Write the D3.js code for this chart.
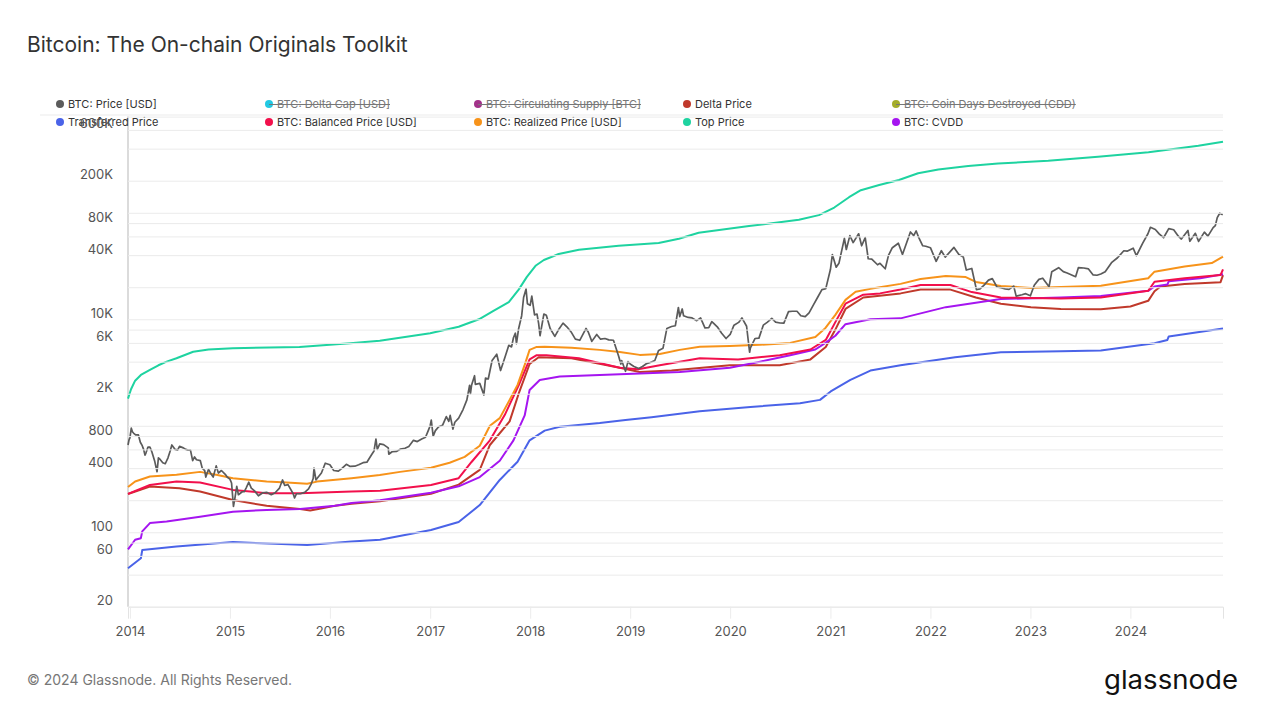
<!DOCTYPE html>
<html><head><meta charset="utf-8">
<script src="https://cdn.jsdelivr.net/npm/d3@7"></script>
<style>
body{margin:0;background:#fff;}
svg{display:block;font-family:Inter,"Noto Sans",sans-serif;}
</style>
</head><body>
<svg id="chart" width="1265" height="712"></svg>
<script>
// ---------- DATA ----------
const chartTitle = "Bitcoin: The On-chain Originals Toolkit";
const footerText = "© 2024 Glassnode. All Rights Reserved.";
const logoText = "glassnode";

const legendNames = [
  "BTC: Price [USD]", "BTC: Delta Cap [USD]", "BTC: Circulating Supply [BTC]", "Delta Price", "BTC: Coin Days Destroyed (CDD)",
  "Transferred Price", "BTC: Balanced Price [USD]", "BTC: Realized Price [USD]", "Top Price", "BTC: CVDD"
];
const legendColors = ["#5b5b5b","#22c9e3","#a3328a","#c0392b","#a4ad2a","#4a63e8","#f2104c","#f7931a","#1ed3a0","#a515f0"];
const legendHidden = [false,true,true,false,true,false,false,false,false,false];

const yGridTicks = [20,40,60,80,100,200,400,600,800,1000,2000,4000,6000,8000,10000,20000,40000,60000,80000,100000,200000,400000,600000,800000];
const yLabelTicks = [20,60,100,400,800,2000,6000,10000,40000,80000,200000,600000];
const xTickYears = [2014,2015,2016,2017,2018,2019,2020,2021,2022,2023,2024];

const price = [
["2013-12-25",660],["2013-12-29",740],["2014-01-01",770],["2014-01-06",950],["2014-01-10",880],["2014-01-15",850],["2014-01-22",820],["2014-02-01",820],
["2014-02-08",700],["2014-02-15",650],["2014-02-20",600],["2014-02-25",530],["2014-03-01",560],["2014-03-08",630],["2014-03-15",630],["2014-03-22",570],
["2014-04-01",470],["2014-04-10",370],["2014-04-15",500],["2014-04-22",480],["2014-05-01",450],["2014-05-10",440],["2014-05-20",500],["2014-05-28",580],
["2014-06-03",660],["2014-06-15",600],["2014-06-24",590],["2014-07-01",640],["2014-07-15",620],["2014-07-24",600],["2014-08-01",590],["2014-08-10",590],
["2014-08-18",470],["2014-08-25",510],["2014-09-01",480],["2014-09-15",470],["2014-09-22",400],["2014-10-01",380],["2014-10-05",330],["2014-10-15",390],
["2014-10-25",350],["2014-11-01",330],["2014-11-12",420],["2014-11-20",360],["2014-12-01",380],["2014-12-15",350],["2014-12-22",330],["2015-01-01",315],
["2015-01-07",290],["2015-01-14",175],["2015-01-20",215],["2015-01-26",270],["2015-02-01",225],["2015-02-15",240],["2015-02-22",240],["2015-03-01",260],
["2015-03-11",295],["2015-03-20",260],["2015-04-01",245],["2015-04-15",220],["2015-05-01",235],["2015-05-15",237],["2015-06-01",225],["2015-06-15",235],
["2015-07-01",260],["2015-07-12",310],["2015-07-20",275],["2015-08-01",280],["2015-08-20",230],["2015-08-25",210],["2015-09-01",230],["2015-09-15",230],
["2015-10-01",237],["2015-10-15",255],["2015-10-25",285],["2015-11-01",320],["2015-11-04",400],["2015-11-11",310],["2015-11-15",320],["2015-12-01",360],
["2015-12-15",445],["2016-01-01",430],["2016-01-15",380],["2016-02-01",375],["2016-02-15",400],["2016-03-01",435],["2016-03-15",415],["2016-04-01",417],
["2016-04-15",430],["2016-05-01",450],["2016-05-15",455],["2016-06-01",535],["2016-06-10",580],["2016-06-17",750],["2016-06-22",600],["2016-07-01",675],
["2016-07-15",665],["2016-08-01",620],["2016-08-03",540],["2016-08-15",570],["2016-09-01",575],["2016-09-15",605],["2016-10-01",615],["2016-10-15",640],
["2016-11-01",730],["2016-11-15",710],["2016-12-01",750],["2016-12-15",780],["2016-12-25",900],["2017-01-01",1000],["2017-01-05",1130],["2017-01-12",800],
["2017-01-20",900],["2017-02-01",980],["2017-02-15",1010],["2017-03-01",1220],["2017-03-10",1100],["2017-03-15",1250],["2017-03-25",930],["2017-04-01",1080],
["2017-04-15",1180],["2017-05-01",1420],["2017-05-15",1750],["2017-05-25",2400],["2017-05-28",2000],["2017-06-01",2400],["2017-06-12",2950],["2017-06-15",2450],
["2017-07-01",2500],["2017-07-16",1950],["2017-07-22",2800],["2017-08-01",2750],["2017-08-15",4100],["2017-09-01",4700],["2017-09-15",3300],["2017-10-01",4400],
["2017-10-15",5700],["2017-10-25",5500],["2017-11-01",6700],["2017-11-08",7400],["2017-11-12",5900],["2017-11-20",8200],["2017-12-01",10800],["2017-12-08",16000],
["2017-12-17",19200],["2017-12-22",14000],["2018-01-01",13500],["2018-01-07",16500],["2018-01-17",11000],["2018-01-26",11200],["2018-02-01",9100],
["2018-02-06",7000],["2018-02-20",11200],["2018-03-01",10900],["2018-03-15",8200],["2018-04-01",6900],["2018-04-15",8000],["2018-05-01",9200],
["2018-05-15",8500],["2018-06-01",7500],["2018-06-15",6500],["2018-07-01",6350],["2018-07-24",8200],["2018-08-01",7600],["2018-08-14",6200],
["2018-09-01",7200],["2018-09-15",6500],["2018-10-01",6600],["2018-10-15",6400],["2018-11-01",6350],["2018-11-20",4500],["2018-11-28",3800],
["2018-12-01",4100],["2018-12-15",3250],["2018-12-24",4000],["2019-01-01",3800],["2019-01-15",3600],["2019-02-01",3450],["2019-02-15",3600],
["2019-03-01",3820],["2019-03-15",3930],["2019-04-01",4100],["2019-04-15",5100],["2019-05-01",5350],["2019-05-15",8200],["2019-06-01",8550],
["2019-06-15",8700],["2019-06-26",12900],["2019-07-01",10600],["2019-07-10",12500],["2019-07-15",10800],["2019-08-01",10400],["2019-08-15",10300],
["2019-09-01",9700],["2019-09-15",10300],["2019-10-01",8300],["2019-10-15",8350],["2019-10-26",9500],["2019-11-01",9200],["2019-11-15",8500],
["2019-12-01",7400],["2019-12-17",6600],["2020-01-01",7200],["2020-01-15",8800],["2020-02-01",9350],["2020-02-13",10300],["2020-03-01",8600],
["2020-03-12",4900],["2020-03-15",5400],["2020-04-01",6600],["2020-04-15",6650],["2020-05-01",8800],["2020-05-15",9350],["2020-06-01",10200],
["2020-06-15",9400],["2020-07-01",9230],["2020-07-15",9200],["2020-08-01",11800],["2020-08-15",11900],["2020-09-01",11900],["2020-09-15",10800],
["2020-10-01",10600],["2020-10-15",11500],["2020-11-01",13800],["2020-11-15",16000],["2020-12-01",19000],["2020-12-15",19400],["2021-01-01",29300],
["2021-01-08",40500],["2021-01-22",30800],["2021-02-01",33500],["2021-02-21",57500],["2021-02-28",45200],["2021-03-13",61000],["2021-03-25",52500],
["2021-04-14",63500],["2021-04-25",49000],["2021-05-08",58500],["2021-05-19",37000],["2021-06-01",36700],["2021-06-22",32500],["2021-07-01",33500],
["2021-07-20",29800],["2021-08-01",39800],["2021-08-15",47000],["2021-09-06",51800],["2021-09-21",40600],["2021-10-01",48000],["2021-10-20",66000],
["2021-11-01",61000],["2021-11-10",67500],["2021-11-20",58000],["2021-12-04",49000],["2021-12-15",48500],["2022-01-01",47000],["2022-01-22",35000],
["2022-02-10",44000],["2022-02-24",38300],["2022-03-28",47300],["2022-04-15",40500],["2022-05-01",38500],["2022-05-12",29000],["2022-06-01",30000],
["2022-06-18",19000],["2022-07-01",19300],["2022-07-15",20800],["2022-08-01",23300],["2022-08-15",24100],["2022-09-01",20100],["2022-09-15",19800],
["2022-10-01",19300],["2022-10-15",19100],["2022-11-01",20500],["2022-11-10",16500],["2022-12-01",17000],["2022-12-15",17400],["2023-01-01",16600],
["2023-01-15",20900],["2023-02-01",23700],["2023-02-15",24300],["2023-03-10",20200],["2023-03-20",28000],["2023-04-14",30500],["2023-05-01",28000],
["2023-05-15",27200],["2023-06-15",25100],["2023-06-25",30500],["2023-07-15",30300],["2023-08-01",29700],["2023-08-18",26100],["2023-09-01",25900],
["2023-09-15",26600],["2023-10-01",27900],["2023-10-24",34000],["2023-11-15",37800],["2023-12-08",44000],["2023-12-20",43600],["2024-01-11",46500],
["2024-01-23",39500],["2024-02-15",51800],["2024-03-05",63500],["2024-03-14",73000],["2024-04-01",69700],["2024-04-15",63400],["2024-05-01",58300],
["2024-05-20",71000],["2024-06-07",69300],["2024-06-24",60300],["2024-07-05",56700],["2024-07-29",68200],["2024-08-05",54000],["2024-08-25",64200],
["2024-09-06",53900],["2024-09-27",65800],["2024-10-10",60300],["2024-10-29",72500],["2024-11-06",75800],["2024-11-13",90000],["2024-11-22",99000],
["2024-12-03",96000]
];

const topPrice = [
["2013-12-25",1800],["2014-01-05",2200],["2014-01-20",2650],["2014-02-10",3000],["2014-03-15",3350],["2014-04-15",3700],["2014-05-15",4000],
["2014-06-20",4300],["2014-08-20",4950],["2014-10-15",5200],["2015-01-12",5350],["2015-09-12",5500],["2016-03-15",5950],["2016-07-01",6300],
["2017-01-01",7400],["2017-04-15",8500],["2017-06-28",10000],["2017-08-20",12000],["2017-10-15",14500],["2017-11-20",19000],["2017-12-20",25000],
["2018-01-22",32000],["2018-02-20",36000],["2018-04-15",41000],["2018-06-28",45000],["2018-11-20",49000],["2019-04-15",52000],["2019-06-28",57000],
["2019-09-08",65000],["2020-03-10",75000],["2020-09-08",86000],["2020-11-20",95000],["2021-01-15",112000],["2021-03-10",140000],["2021-04-22",163000],
["2021-06-28",182000],["2021-09-08",203000],["2021-11-17",235000],["2022-01-30",255000],["2022-05-19",275000],["2022-09-05",290000],["2023-03-07",308000],
["2023-09-05",335000],["2024-03-07",370000],["2024-09-05",425000],["2024-12-04",465000]
];

const realizedPrice = [
["2013-12-25",266],["2014-01-20",300],["2014-03-15",334],["2014-06-20",346],["2014-09-14",369],["2014-11-12",346],["2015-01-12",322],
["2015-05-15",299],["2015-07-28",293],["2015-10-10",285],["2015-11-15",299],["2016-03-20",322],["2016-07-01",345],["2016-09-13",369],
["2017-01-04",404],["2017-03-13",450],["2017-05-07",510],["2017-07-01",650],["2017-08-07",1000],["2017-09-12",1180],["2017-10-18",1750],
["2017-11-16",2420],["2017-12-12",3730],["2017-12-30",5160],["2018-01-25",5500],["2018-02-23",5510],["2018-06-01",5400],["2018-09-12",5160],
["2018-11-24",4940],["2019-02-05",4630],["2019-04-19",4730],["2019-07-01",5160],["2019-09-12",5510],["2019-12-31",5620],["2020-04-19",5750],
["2020-08-07",6000],["2020-11-07",6830],["2020-12-14",8300],["2021-01-19",11000],["2021-02-25",15200],["2021-04-03",18100],["2021-05-27",19300],
["2021-09-14",21500],["2021-11-26",23900],["2022-02-26",25500],["2022-05-10",24900],["2022-06-16",22400],["2022-09-15",20500],["2023-01-03",19700],
["2023-04-22",20100],["2023-09-15",20600],["2024-03-06",24300],["2024-03-29",28000],["2024-07-17",31300],["2024-10-24",33700],["2024-12-04",38800]
];

const balancedPrice = [
["2013-12-25",229],["2014-03-15",278],["2014-06-20",299],["2014-09-14",293],["2015-01-12",250],["2015-05-15",233],["2015-09-14",233],
["2016-03-20",241],["2016-07-02",245],["2017-01-04",278],["2017-04-15",322],["2017-06-01",457],["2017-08-07",730],["2017-09-30",1260],
["2017-11-20",2400],["2017-12-30",4200],["2018-01-25",4600],["2018-03-01",4600],["2018-06-28",4300],["2018-11-24",3500],["2019-01-30",3400],
["2019-04-19",3700],["2019-09-12",4300],["2020-01-30",4200],["2020-06-30",4600],["2020-10-20",5200],["2020-12-15",6400],["2021-01-19",9400],
["2021-02-25",14000],["2021-05-01",17000],["2021-07-01",17500],["2021-09-14",19000],["2021-11-26",21000],["2022-03-15",21000],["2022-06-01",18000],
["2022-09-15",16000],["2023-04-22",15700],["2023-09-15",16000],["2024-03-06",18500],["2024-03-29",22500],["2024-07-17",24300],["2024-11-25",26000],
["2024-12-04",29400]
];

const deltaPrice = [
["2013-12-25",229],["2014-03-15",269],["2014-07-01",259],["2014-09-14",241],["2015-01-12",201],["2015-05-15",177],["2015-09-14",165],
["2015-10-21",160],["2016-01-20",177],["2016-03-20",185],["2016-07-02",195],["2017-01-04",230],["2017-04-15",280],["2017-07-01",385],
["2017-08-07",660],["2017-10-18",1100],["2017-11-20",2000],["2017-12-30",3800],["2018-02-01",4400],["2018-06-01",4300],["2018-11-24",3500],
["2019-02-05",3200],["2019-06-01",3300],["2019-12-31",3700],["2020-06-30",3700],["2020-10-20",4200],["2020-12-15",5500],["2021-01-19",8000],
["2021-02-25",12500],["2021-05-01",16000],["2021-09-14",17500],["2021-11-26",19000],["2022-03-15",19000],["2022-06-16",16000],["2022-09-15",14000],
["2023-01-03",13000],["2023-04-22",12500],["2023-09-15",12400],["2024-01-01",13200],["2024-03-06",14900],["2024-03-29",18300],["2024-04-20",20300],
["2024-07-17",21400],["2024-11-25",22300],["2024-12-04",26000]
];

const cvdd = [
["2013-12-25",69],["2014-01-20",85],["2014-02-10",88],["2014-02-15",102],["2014-03-15",122],["2014-05-15",126],["2014-09-14",140],
["2015-01-12",156],["2015-05-15",162],["2015-09-14",165],["2016-01-20",177],["2016-03-20",188],["2016-07-02",200],["2017-01-04",235],
["2017-04-15",270],["2017-07-01",330],["2017-09-12",470],["2017-11-01",730],["2017-12-12",1250],["2017-12-30",2170],["2018-02-05",2690],
["2018-04-19",2900],["2018-09-12",3000],["2019-02-05",3100],["2019-07-01",3200],["2019-12-31",3500],["2020-04-19",4000],["2020-08-07",4600],
["2020-11-07",5200],["2020-12-14",6000],["2021-01-19",7000],["2021-02-25",9000],["2021-05-27",10000],["2021-09-14",10200],["2022-02-26",13000],
["2022-09-15",15500],["2023-04-22",16000],["2023-09-15",16500],["2024-03-06",18500],["2024-03-29",20300],["2024-05-15",21200],["2024-05-20",22700],
["2024-09-12",24300],["2024-12-04",26500]
];

const transferredPrice = [
["2013-12-25",46],["2014-02-10",57],["2014-02-15",68],["2014-06-20",73.5],["2015-01-12",81],["2015-06-15",78],["2015-10-10",76],
["2016-03-20",82],["2016-07-02",85],["2017-01-04",105],["2017-04-15",125],["2017-07-01",180],["2017-09-12",310],["2017-11-16",460],
["2017-12-30",730],["2018-02-23",900],["2018-04-19",980],["2018-09-12",1060],["2018-12-15",1130],["2019-03-20",1200],["2019-09-12",1370],
["2020-03-15",1500],["2020-09-12",1630],["2020-11-24",1750],["2021-01-02",2100],["2021-03-15",2700],["2021-05-27",3300],["2021-09-14",3700],
["2022-04-01",4400],["2022-09-15",4900],["2023-04-22",5000],["2023-09-15",5100],["2024-03-29",5950],["2024-05-15",6400],["2024-05-20",6900],
["2024-12-04",8200]
];

// ---------- CHART ----------
const svg = d3.select("#chart");
const L = 128, R = 1223, T = 116.6, B = 606.7;
const x = d3.scaleUtc().domain([new Date("2013-12-25T00:00:00Z"), new Date("2024-12-04T00:00:00Z")]).range([L, R]);
const y = d3.scaleLog().domain([20, 800000]).range([B, T]);
const parse = arr => arr.map(([d, v]) => ({date: new Date(d + "T00:00:00Z"), value: v}));
const fmt = v => v >= 1000 ? (v / 1000) + "K" : String(v);

// title
svg.append("text").attr("x", 27).attr("y", 52).attr("font-size", 21).attr("fill", "#333").text(chartTitle);

// gridlines + y labels
const yAxis = svg.append("g").attr("transform", `translate(${L},0)`)
  .call(d3.axisLeft(y).tickValues(yGridTicks).tickSize(-(R - L)).tickFormat(v => yLabelTicks.includes(v) ? fmt(v) : ""));
yAxis.select(".domain").remove();
yAxis.selectAll(".tick line").attr("stroke", "#ebebeb").attr("stroke-width", 1);
yAxis.selectAll(".tick text").attr("x", -15).attr("dy", "-0.15em").attr("font-size", 13).attr("fill", "#555").attr("font-family", "Inter");

// legend separator line
svg.append("line").attr("x1", 40).attr("x2", R).attr("y1", 115).attr("y2", 115).attr("stroke", "#ebebeb");

// x axis
const xAxis = svg.append("g").attr("transform", `translate(0,${B})`)
  .call(d3.axisBottom(x).tickValues(xTickYears.map(yr => new Date(Date.UTC(yr, 0, 1)))).tickSize(12).tickPadding(8).tickFormat(d3.utcFormat("%Y")));
xAxis.select(".domain").attr("stroke", "#e3e3e3");
xAxis.selectAll(".tick line").attr("stroke", "#ececec");
xAxis.selectAll(".tick text").attr("font-size", 13).attr("fill", "#555").attr("font-family", "Inter");

// left axis line
svg.append("line").attr("x1", L).attr("x2", L).attr("y1", T).attr("y2", B).attr("stroke", "#cfcfcf").attr("stroke-width", 1.5);

// series
const line = d3.line().x(d => x(d.date)).y(d => y(d.value));
const series = [
  {data: topPrice, color: legendColors[8], w: 2},
  {data: transferredPrice, color: legendColors[5], w: 2},
  {data: deltaPrice, color: legendColors[3], w: 2},
  {data: cvdd, color: legendColors[9], w: 2},
  {data: balancedPrice, color: legendColors[6], w: 2},
  {data: realizedPrice, color: legendColors[7], w: 2},
  {data: price, color: legendColors[0], w: 1.7}
];
const plot = svg.append("g");
series.forEach(s => {
  plot.append("path").datum(parse(s.data)).attr("fill", "none").attr("stroke", s.color)
    .attr("stroke-width", s.w).attr("stroke-linejoin", "round").attr("d", line);
});

// legend
const legendCols = 5, legendX0 = 60, legendDX = 209, legendY0 = 104, legendDY = 18;
legendNames.forEach((name, i) => {
  const cx = legendX0 + (i % legendCols) * legendDX;
  const cy = legendY0 + Math.floor(i / legendCols) * legendDY;
  const g = svg.append("g");
  g.append("circle").attr("cx", cx).attr("cy", cy).attr("r", 4).attr("fill", legendColors[i]);
  const t = g.append("text").attr("x", cx + 8).attr("y", cy + 4).attr("font-size", 11)
    .attr("fill", legendHidden[i] ? "#777" : "#333").text(name);
  if (legendHidden[i]) {
    const w = t.node().getComputedTextLength();
    g.append("line").attr("x1", cx).attr("x2", cx + 8 + w).attr("y1", cy + 0.5).attr("y2", cy + 0.5)
      .attr("stroke", "#777").attr("stroke-width", 1);
  }
});
// the 600K label sits over the legend, as in the reference
yAxis.raise();

// footer
svg.append("text").attr("x", 27).attr("y", 685).attr("font-size", 14).attr("fill", "#777").text(footerText);
svg.append("text").attr("x", 1104).attr("y", 689).attr("font-size", 26).attr("font-weight", 400)
  .attr("fill", "#111").attr("textLength", 134).attr("lengthAdjust", "spacingAndGlyphs").text(logoText);
</script>
</body></html>
